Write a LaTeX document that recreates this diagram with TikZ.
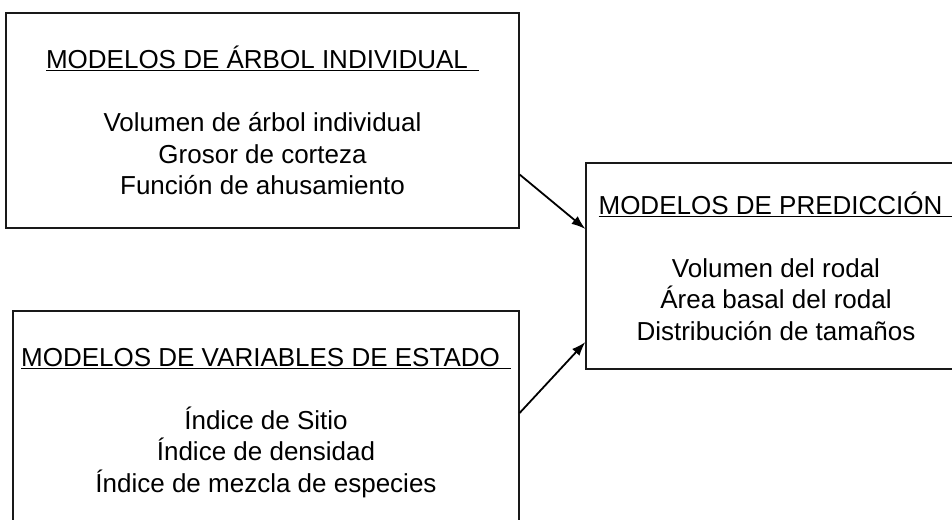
\documentclass[tikz,border=0pt]{standalone}
\usepackage{fontspec}
\setmainfont{Liberation Sans}
\usetikzlibrary{arrows.meta, positioning}

\newcommand{\titulo}[1]{\underline{#1\hspace{11pt}}}

\begin{document}
\begin{tikzpicture}[x=1pt, y=1pt,
					modelnode/.style={rectangle,
					line width=1.2pt,
					draw=black!90,
					align=center,
					inner sep=0pt,
					font=\fontsize{26}{31.5}\selectfont}
					]

% keep the page as big as the original figure
\useasboundingbox (0,0) rectangle (952,-519);

% model nodes
\node[modelnode, minimum width=513, minimum height=215]  (mod1) at (262.5,-120.5)
	{\titulo{MODELOS DE ÁRBOL INDIVIDUAL}\\[31.5pt]
	Volumen de árbol individual\\
	Grosor de corteza\\
	Función de ahusamiento};
\node[modelnode, minimum width=506, minimum height=224]  (mod2) [below of = mod1, node distance=302.5, xshift=3.5]
	{\titulo{MODELOS DE VARIABLES DE ESTADO}\\[31.5pt]
	Índice de Sitio\\
	Índice de densidad\\
	Índice de mezcla de especies};

% prediction node
\node[modelnode, minimum width=380, minimum height=206]  (mod3) [right of = mod1, node distance=513.5, yshift=-145.5]
	{\titulo{MODELOS DE PREDICCIÓN}\\[31.5pt]
	Volumen del rodal\\
	Área basal del rodal\\
	Distribución de tamaños};

% arrows to prediction
\path[-{Latex[length=14pt,width=10pt]}, black, line width=1.8pt] ([yshift=-54]mod1.east) edge ([yshift=37]mod3.west);
\path[-{Latex[length=14pt,width=10pt]}, black, line width=1.8pt] ([yshift=10]mod2.east) edge ([yshift=-76]mod3.west);

\end{tikzpicture}
\end{document}
